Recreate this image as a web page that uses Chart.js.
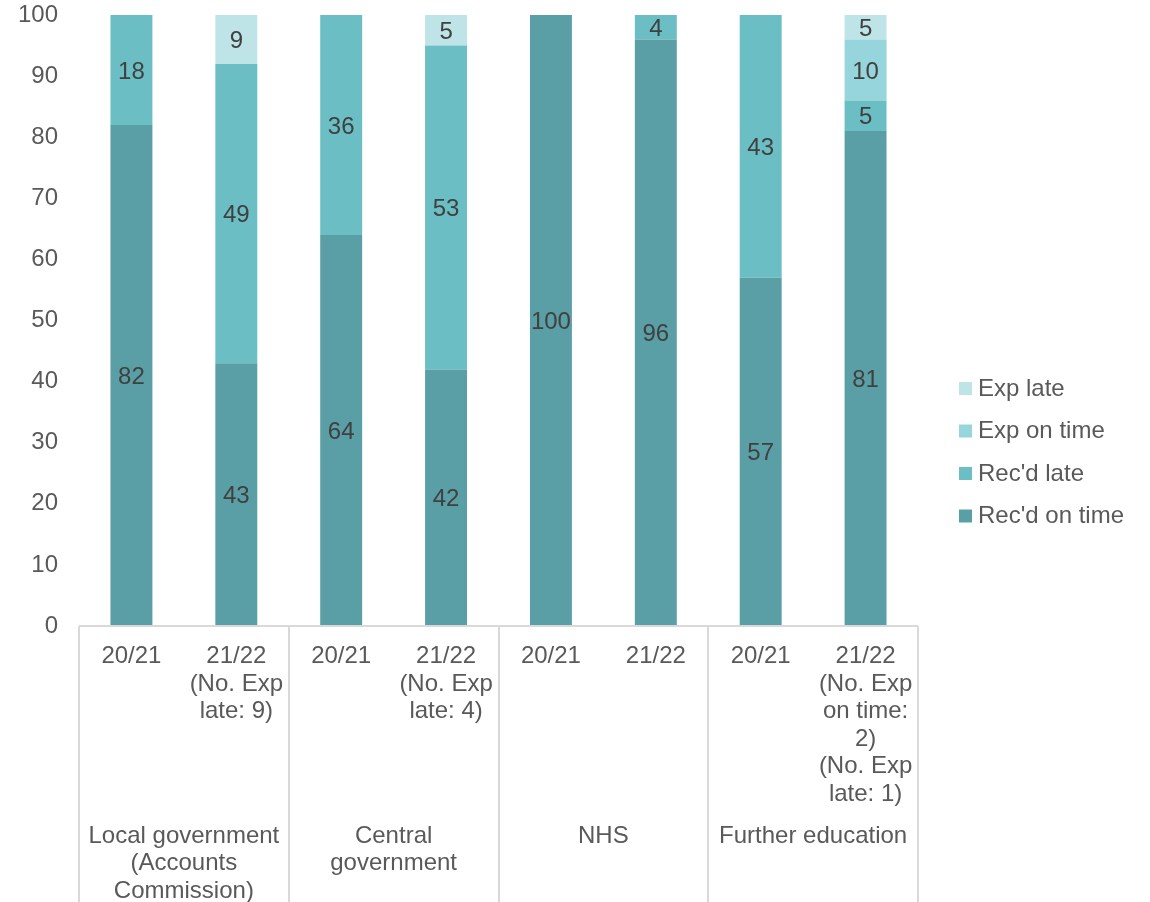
<!DOCTYPE html>
<html>
<head>
<meta charset="utf-8">
<title>Accounts received by sector</title>
<script src="https://cdn.jsdelivr.net/npm/chart.js@4/dist/chart.umd.min.js"></script>
<style>
  html, body { margin: 0; padding: 0; background: #fff; }
  #wrap { width: 1150px; height: 902px; }
</style>
</head>
<body>
<div id="wrap"><canvas id="accounts-chart"></canvas></div>
<script>
// Year labels under each bar (one array entry per line)
const yearLabels = [
  ['20/21'],
  ['21/22', '(No. Exp', 'late: 9)'],
  ['20/21'],
  ['21/22', '(No. Exp', 'late: 4)'],
  ['20/21'],
  ['21/22'],
  ['20/21'],
  ['21/22', '(No. Exp', 'on time:', '2)', '(No. Exp', 'late: 1)']
];

// Sector names, each spanning two bars
const sectorLabels = [
  ['Local government', '(Accounts', 'Commission)'],
  ['Central', 'government'],
  ['NHS'],
  ['Further education']
];

// Percentages per status
const recdOnTime = [82, 43, 64, 42, 100, 96, 57, 81];
const recdLate   = [18, 49, 36, 53, 0, 4, 43, 5];
const expOnTime  = [0, 0, 0, 0, 0, 0, 0, 10];
const expLate    = [0, 9, 0, 5, 0, 0, 0, 5];

const yTicks = [0, 10, 20, 30, 40, 50, 60, 70, 80, 90, 100];

const textColor = '#595959';
const lineColor = '#d9d9d9';
const fontFamily = 'Arial, "Liberation Sans", sans-serif';
const fontSize = 24;
const lineStep = 27.5;

// Value labels in the middle of each segment
const segmentLabels = {
  id: 'segmentLabels',
  afterDatasetsDraw(chart) {
    const ctx = chart.ctx;
    const area = chart.chartArea;
    ctx.save();
    ctx.font = fontSize + 'px ' + fontFamily;
    ctx.fillStyle = '#404040';
    ctx.textAlign = 'center';
    ctx.textBaseline = 'middle';
    chart.data.datasets.forEach((ds, i) => {
      chart.getDatasetMeta(i).data.forEach((bar, j) => {
        const v = ds.data[j];
        if (!v) return;
        const top = Math.max(bar.y, area.top);
        const bottom = Math.min(bar.base, area.bottom);
        ctx.fillText(String(v), bar.x, (top + bottom) / 2 + 2);
      });
    });
    ctx.restore();
  }
};

// Axis line, sector dividers and sector names below the year labels
const sectorAxis = {
  id: 'sectorAxis',
  afterDraw(chart) {
    const ctx = chart.ctx;
    const x = chart.scales.x;
    const area = chart.chartArea;
    const step = (area.right - area.left) / sectorLabels.length;
    ctx.save();
    ctx.strokeStyle = lineColor;
    ctx.lineWidth = 2;
    ctx.beginPath();
    ctx.moveTo(area.left, area.bottom);
    ctx.lineTo(area.right, area.bottom);
    for (let k = 0; k <= sectorLabels.length; k++) {
      const px = Math.round(area.left + step * k);
      ctx.moveTo(px, area.bottom);
      ctx.lineTo(px, chart.height);
    }
    ctx.stroke();

    ctx.font = fontSize + 'px ' + fontFamily;
    ctx.fillStyle = textColor;
    ctx.textAlign = 'center';
    ctx.textBaseline = 'middle';
    sectorLabels.forEach((lines, k) => {
      const cx = (x.getPixelForValue(k * 2) + x.getPixelForValue(k * 2 + 1)) / 2;
      lines.forEach((line, n) => {
        ctx.fillText(line, cx, area.bottom + 210 + n * lineStep);
      });
    });
    ctx.restore();
  }
};

// Legend on the right, top entry first
const sideLegend = {
  id: 'sideLegend',
  afterDraw(chart) {
    const ctx = chart.ctx;
    const items = chart.data.datasets.slice().reverse();
    ctx.save();
    ctx.font = fontSize + 'px ' + fontFamily;
    ctx.textBaseline = 'middle';
    ctx.textAlign = 'left';
    items.forEach((ds, k) => {
      const cy = 388 + k * 42.5;
      ctx.fillStyle = ds.backgroundColor;
      ctx.fillRect(959, cy - 6, 13, 13);
      ctx.fillStyle = textColor;
      ctx.fillText(ds.label, 978, cy + 1);
    });
    ctx.restore();
  }
};

const ctx = document.getElementById('accounts-chart').getContext('2d');

const accountsChart = new Chart(ctx, {
  type: 'bar',
  data: {
    labels: yearLabels,
    datasets: [
      { label: "Rec'd on time", data: recdOnTime, backgroundColor: '#5a9fa5' },
      { label: "Rec'd late", data: recdLate, backgroundColor: '#6bbfc4' },
      { label: 'Exp on time', data: expOnTime, backgroundColor: '#95d5db' },
      { label: 'Exp late', data: expLate, backgroundColor: '#bfe4e7' }
    ]
  },
  options: {
    responsive: true,
    maintainAspectRatio: false,
    animation: false,
    layout: {
      padding: { top: 15, right: 232, bottom: 0, left: 0 }
    },
    datasets: {
      bar: {
        barPercentage: 0.4,
        categoryPercentage: 1,
        borderWidth: 0
      }
    },
    scales: {
      x: {
        stacked: true,
        grid: { display: false, drawTicks: false },
        border: { display: false },
        ticks: {
          color: textColor,
          font: { size: fontSize, family: fontFamily, lineHeight: lineStep / fontSize },
          padding: 17,
          maxRotation: 0,
          autoSkip: false
        },
        afterFit(scale) {
          scale.height = 276;
        }
      },
      y: {
        stacked: true,
        min: 0,
        max: 100,
        grid: { display: false, drawTicks: false },
        border: { display: false },
        afterBuildTicks(scale) {
          scale.ticks = yTicks.map(v => ({ value: v }));
        },
        ticks: {
          color: textColor,
          font: { size: fontSize, family: fontFamily },
          padding: 21
        },
        afterFit(scale) {
          scale.width = 79;
          scale.paddingTop = 0;
          scale.paddingBottom = 0;
        }
      }
    },
    plugins: {
      legend: { display: false },
      tooltip: { enabled: false }
    }
  },
  plugins: [segmentLabels, sectorAxis, sideLegend]
});
</script>
</body>
</html>
